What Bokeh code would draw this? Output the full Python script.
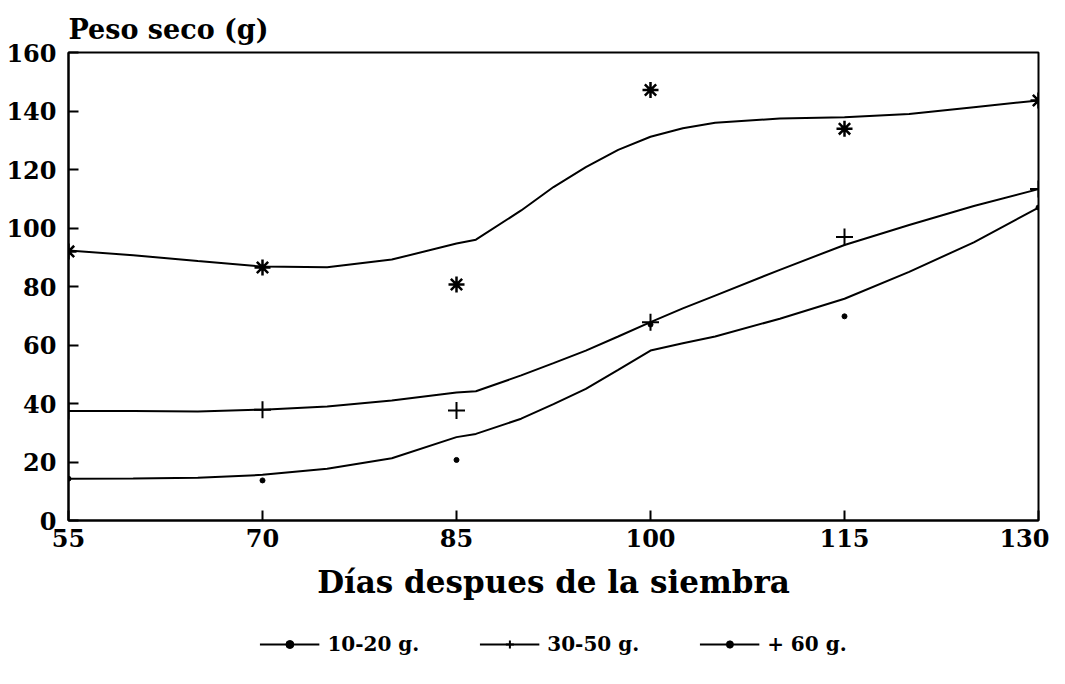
from bokeh.plotting import figure
from bokeh.layouts import column
from bokeh.models import Range1d, FixedTicker, Legend, LegendItem
from bokeh.embed import file_html
from bokeh.resources import INLINE

# Observed means (days after sowing)
days = [55, 70, 85, 100, 115, 130]
obs_10_20 = [14.3, 13.7, 20.7, 67.0, 69.8, 107.0]
obs_30_50 = [37.4, 37.9, 37.6, 67.8, 96.9, 113.3]
obs_60 = [92.0, 86.5, 80.7, 147.2, 133.9, 143.6]

# Fitted curves
curve_days = [55, 60, 65, 70, 75, 80, 85, 86.5, 90, 92.5, 95, 97.5, 100, 102.5, 105, 110, 115, 120, 125, 130]
fit_10_20 = [14.3, 14.4, 14.6, 15.6, 17.7, 21.3, 28.5, 29.6, 34.8, 39.8, 45.0, 51.5, 58.1, 60.6, 62.9, 69.0, 75.8, 85.0, 95.1, 107.0]
fit_30_50 = [37.4, 37.4, 37.3, 37.9, 39.0, 41.0, 43.8, 44.2, 49.6, 53.8, 58.1, 62.9, 67.8, 72.5, 76.9, 85.7, 94.2, 101.0, 107.5, 113.3]
fit_60 = [92.3, 90.7, 88.7, 86.8, 86.6, 89.2, 94.7, 96.0, 106.0, 114.0, 120.8, 126.7, 131.2, 134.1, 136.0, 137.4, 137.9, 139.0, 141.3, 143.6]

series_labels = ["10-20 g.", "30-50 g.", "+ 60 g."]
x_ticks = [55, 70, 85, 100, 115, 130]
y_ticks = [0, 20, 40, 60, 80, 100, 120, 140, 160]

FONT = "DejaVu Serif"

p = figure(frame_width=970, frame_height=468, output_backend="svg", toolbar_location=None,
           x_range=Range1d(55, 130), y_range=Range1d(0, 160),
           min_border_left=68, min_border_right=11, min_border_top=52, min_border_bottom=10)

p.grid.visible = False
p.outline_line_color = "black"
p.outline_line_width = 2
p.background_fill_color = "white"
p.border_fill_color = "white"

p.title.text = "Peso seco (g)"
p.title.text_font = FONT
p.title.text_font_style = "bold"
p.title.text_font_size = "27px"
p.title.text_color = "black"
p.title.align = "left"
p.title.offset = 0
p.title.standoff = 15

for ax in (p.xaxis[0], p.yaxis[0]):
    ax.axis_line_width = 2
    ax.axis_line_color = "black"
    ax.major_tick_in = 10
    ax.major_tick_out = 0
    ax.minor_tick_in = 0
    ax.minor_tick_out = 0
    ax.major_tick_line_width = 2
    ax.major_label_text_font = FONT
    ax.major_label_text_font_style = "bold"
    ax.major_label_text_font_size = "24px"
    ax.major_label_text_color = "black"

p.xaxis.ticker = FixedTicker(ticks=x_ticks)
p.yaxis.ticker = FixedTicker(ticks=y_ticks)
p.xaxis.major_label_standoff = 8
p.yaxis.major_label_standoff = 12
p.xaxis.axis_label = "Días despues de la siembra"
p.xaxis.axis_label_text_font = FONT
p.xaxis.axis_label_text_font_style = "bold"
p.xaxis.axis_label_text_font_size = "31px"
p.xaxis.axis_label_text_color = "black"
p.xaxis.axis_label_standoff = 14


def draw(fig):
    l1 = fig.line(curve_days, fit_10_20, line_color="black", line_width=2)
    l2 = fig.line(curve_days, fit_30_50, line_color="black", line_width=2)
    l3 = fig.line(curve_days, fit_60, line_color="black", line_width=2)
    s1 = fig.scatter(days, obs_10_20, marker="circle", size=5, fill_color="black", line_color="black")
    s2 = fig.scatter(days, obs_30_50, marker="cross", size=17, line_color="black", line_width=2)
    s3 = fig.scatter(days, obs_60, marker="asterisk", size=16, line_color="black", line_width=2.5)
    return [(l1, s1), (l2, s2), (l3, s3)]


draw(p)

# Legend strip below the chart (same series; its range shows only the legend)
lg = figure(width=1049, height=58, output_backend="svg", toolbar_location=None,
            x_range=Range1d(0, 1), y_range=Range1d(0, 1),
            x_axis_type=None, y_axis_type=None,
            min_border_left=0, min_border_right=0, min_border_top=0, min_border_bottom=0)
lg.grid.visible = False
lg.outline_line_color = None
lg.border_fill_color = "white"
pairs = draw(lg)

legend = Legend(items=[LegendItem(label=lab, renderers=list(pr)) for lab, pr in zip(series_labels, pairs)],
                orientation="horizontal", location="bottom_center")
legend.label_text_font = FONT
legend.label_text_font_style = "bold"
legend.label_text_font_size = "20px"
legend.label_text_color = "black"
legend.glyph_width = 60
legend.glyph_height = 20
legend.spacing = 60
legend.label_standoff = 8
legend.border_line_color = None
legend.background_fill_alpha = 0
legend.margin = 4
legend.padding = 0
lg.add_layout(legend, "center")

layout = column(p, lg, spacing=0)
open("out.html", "w").write(file_html(layout, INLINE))
